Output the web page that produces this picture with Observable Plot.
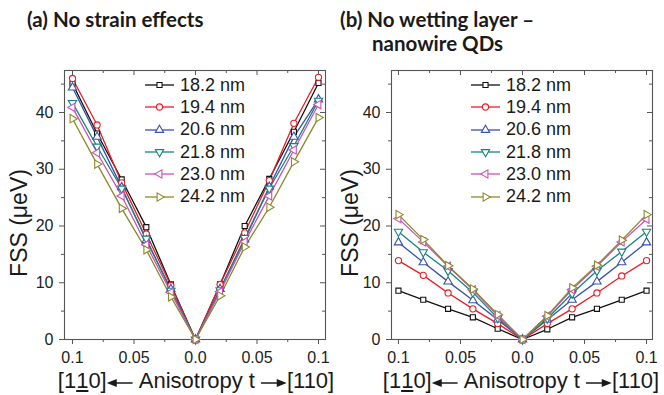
<!DOCTYPE html>
<html><head><meta charset="utf-8">
<script src="https://cdn.jsdelivr.net/npm/d3@7"></script>
<script src="https://cdn.jsdelivr.net/npm/@observablehq/plot@0.6"></script>
<style>
body{margin:0;background:#fff;}
#wrap{position:relative;width:664px;height:395px;overflow:hidden;font-family:"Liberation Sans",Arial,sans-serif;color:#1a1a1a;}
.panel{position:absolute;top:0;}
.title{position:absolute;font-family:Lato,sans-serif;font-weight:bold;font-size:20.5px;line-height:24px;white-space:nowrap;color:#1a1a1a}
.ylab{position:absolute;font-size:23px;line-height:26px;white-space:nowrap;transform:translate(-50%,-50%) rotate(-90deg);}
.xlab{position:absolute;font-size:22px;line-height:26px;white-space:nowrap;transform:translateX(-50%);display:flex;align-items:center}
.legend{position:absolute;font-size:18px}
.legend .row{display:flex;align-items:center;height:22.3px}
.legend svg{margin-right:6px}
</style></head>
<body><div id="wrap"></div>
<script>
// ---------- data ----------
const t = [-0.1, -0.08, -0.06, -0.04, -0.02, 0, 0.02, 0.04, 0.06, 0.08, 0.1];
const sizes = ["18.2 nm", "19.4 nm", "20.6 nm", "21.8 nm", "23.0 nm", "24.2 nm"];
const colors = ["#111111", "#ee1c24", "#3953a8", "#15857f", "#cf4fbc", "#8a8a2a"];
const xMajor = [-0.1, -0.05, 0, 0.05, 0.1];
const xMinor = [-0.075, -0.025, 0.025, 0.075];
const yMajor = [0, 10, 20, 30, 40];
const yMinor = [5, 15, 25, 35, 45];

// (a) No strain effects
const a_18_2 = [45.1, 36.3, 28.2, 19.8, 9.7, 0, 9.7, 20.0, 28.3, 36.6, 45.2];
const a_19_4 = [46.0, 37.8, 27.6, 18.6, 9.5, 0, 9.7, 18.8, 28.0, 38.1, 46.2];
const a_20_6 = [44.4, 35.7, 26.8, 17.5, 8.9, 0, 8.9, 17.6, 26.9, 35.7, 42.3];
const a_21_8 = [41.7, 34.0, 26.6, 17.8, 8.6, 0, 8.7, 17.9, 26.6, 34.1, 42.1];
const a_23_0 = [40.9, 32.9, 25.3, 16.7, 8.3, 0, 8.4, 17.2, 25.3, 33.4, 41.4];
const a_24_2 = [38.9, 30.9, 23.1, 15.8, 7.5, 0, 7.7, 16.3, 23.3, 31.3, 39.1];

// (b) No wetting layer - nanowire QDs
const b_18_2 = [8.6, 7.0, 5.4, 3.9, 1.9, 0, 1.8, 3.9, 5.4, 7.0, 8.6];
const b_19_4 = [13.9, 11.3, 8.2, 5.4, 2.8, 0, 2.8, 5.4, 8.2, 11.2, 13.9];
const b_20_6 = [17.1, 13.6, 10.2, 6.9, 3.5, 0, 3.5, 7.0, 10.2, 13.6, 17.1];
const b_21_8 = [19.0, 15.4, 12.1, 8.3, 3.8, 0, 3.7, 8.1, 12.1, 15.5, 19.0];
const b_23_0 = [21.3, 17.2, 12.9, 8.75, 4.2, 0, 4.1, 8.8, 12.9, 17.2, 21.2];
const b_24_2 = [22.0, 17.6, 13.0, 8.9, 4.4, 0, 4.2, 9.1, 13.1, 17.5, 22.0];

// ---------- symbols ----------
function tri(angleDeg) {
  return {draw(ctx, size) {
    const R = Math.sqrt(size * 4 / (3 * Math.sqrt(3)));
    for (let i = 0; i < 3; i++) {
      const a = (angleDeg + 120 * i) * Math.PI / 180;
      const x = R * Math.cos(a), y = R * Math.sin(a);
      i ? ctx.lineTo(x, y) : ctx.moveTo(x, y);
    }
    ctx.closePath();
  }};
}
const symbols = [d3.symbolSquare, d3.symbolCircle, tri(-90), tri(90), tri(180), tri(0)];
const symSize = [26, 30, 30, 30, 30, 30];

const H = 395, MT = 70, MB = 56;
const FH = H - MT - MB;
const wrap = document.getElementById("wrap");

function panel(series, left, width, ml, mr, xDomain) {
  const W = width - ml - mr;
  const marks = [
    Plot.frame({stroke: "#555", strokeWidth: 1.1}),
    Plot.ruleX(xMajor, {insetTop: FH, insetBottom: -5, stroke: "#555"}),
    Plot.ruleX(xMinor, {insetTop: FH, insetBottom: -3, stroke: "#555"}),
    Plot.ruleX(xMajor, {insetBottom: FH - 5, stroke: "#555"}),
    Plot.ruleX(xMinor, {insetBottom: FH - 3, stroke: "#555"}),
    Plot.ruleY(yMajor, {insetRight: W, insetLeft: -5, stroke: "#555"}),
    Plot.ruleY(yMinor, {insetRight: W, insetLeft: -3, stroke: "#555"}),
    Plot.ruleY(yMajor, {insetLeft: W - 5, stroke: "#555"}),
    Plot.ruleY(yMinor, {insetLeft: W - 3, stroke: "#555"}),
    Plot.axisX({ticks: xMajor, tickSize: 0, tickPadding: 12, label: null,
      tickFormat: d => d === 0 ? "0.0" : String(Math.abs(d))}),
    Plot.axisY({ticks: yMajor, tickSize: 0, tickPadding: 11, label: null})
  ];
  series.forEach((vals, i) => {
    const rows = t.map((x, j) => ({t: x, fss: vals[j]}));
    marks.push(Plot.line(rows, {x: "t", y: "fss", stroke: colors[i], strokeWidth: 1.3}));
  });
  series.forEach((vals, i) => {
    const rows = t.map((x, j) => ({t: x, fss: vals[j]}));
    marks.push(Plot.dot(rows, {x: "t", y: "fss", stroke: colors[i], fill: "white",
      symbol: symbols[i], r: Math.sqrt(symSize[i] / Math.PI), strokeWidth: 1.1}));
  });
  const svg = Plot.plot({
    width, height: H, marginLeft: ml, marginRight: mr, marginTop: MT, marginBottom: MB,
    x: {domain: xDomain}, y: {domain: [0, 47.4]},
    style: {fontFamily: "'Liberation Sans', Arial, sans-serif", fontSize: "16px", color: "#222", background: "transparent", overflow: "visible"},
    marks
  });
  const div = document.createElement("div");
  div.className = "panel";
  div.style.left = left + "px";
  div.appendChild(svg);
  wrap.appendChild(div);
}

panel([a_18_2, a_19_4, a_20_6, a_21_8, a_23_0, a_24_2], 0, 332, 64, 7, [-0.1065, 0.1057]);
panel([b_18_2, b_19_4, b_20_6, b_21_8, b_23_0, b_24_2], 332, 332, 59, 12, [-0.1056, 0.1048]);

// ---------- text ----------
function addDiv(cls, html, css) {
  const d = document.createElement("div");
  d.className = cls; d.innerHTML = html;
  Object.assign(d.style, css);
  wrap.appendChild(d);
  return d;
}
addDiv("title", "(a) No strain effects", {left: "27px", top: "7px"});
addDiv("title", "(b) No wetting layer \u2013", {left: "340px", top: "7px"});
addDiv("title", "nanowire QDs", {left: "372px", top: "31px"});

addDiv("ylab", "FSS (\u03bceV)", {left: "19px", top: "223px"});
addDiv("ylab", "FSS (\u03bceV)", {left: "350px", top: "223px"});

function arrow(dir) {
  const w = 26, h = 10;
  const head = dir < 0
    ? `<path d="M0,5 L10,1 L10,9 Z" fill="#1a1a1a"/><line x1="9" y1="5" x2="${w}" y2="5" stroke="#1a1a1a" stroke-width="1.6"/>`
    : `<path d="M${w},5 L${w-10},1 L${w-10},9 Z" fill="#1a1a1a"/><line x1="0" y1="5" x2="${w-9}" y2="5" stroke="#1a1a1a" stroke-width="1.6"/>`;
  return `<svg width="${w}" height="${h}" style="margin-top:4px">${head}</svg>`;
}
const xl = `[1<span style="text-decoration:underline">1</span>0]${arrow(-1)}<span style="margin:0 6px">Anisotropy t</span>${arrow(1)}[110]`;
addDiv("xlab", xl, {left: "196px", top: "368px"});
addDiv("xlab", xl, {left: "521px", top: "368px"});

function legend(left) {
  const lg = addDiv("legend", "", {left: left + "px", top: "74px"});
  sizes.forEach((s, i) => {
    const p = d3.symbol().type(symbols[i]).size(symSize[i])();
    const row = document.createElement("div");
    row.className = "row";
    row.innerHTML = `<svg width="29" height="14"><line x1="0" x2="29" y1="7" y2="7" stroke="${colors[i]}" stroke-width="1.3"/><path d="${p}" transform="translate(14.5,7)" fill="white" stroke="${colors[i]}" stroke-width="1.1"/></svg>${s}`;
    lg.appendChild(row);
  });
}
legend(145);
legend(471);
</script>
</body></html>
